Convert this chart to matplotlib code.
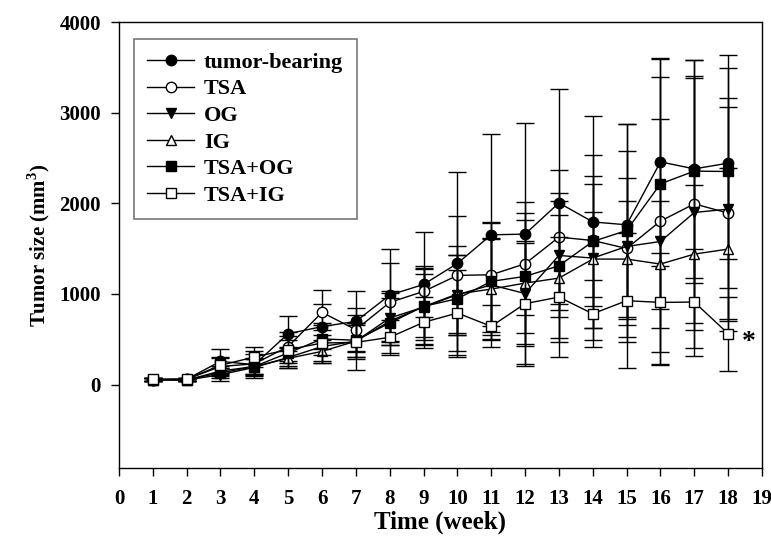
import matplotlib
matplotlib.use('Agg')
import matplotlib.pyplot as plt
import numpy as np

weeks = list(range(1, 19))

tumor_bearing = [55, 60, 257, 220, 562, 640, 698, 988, 1105, 1337, 1653, 1660, 2005, 1795, 1763, 2457, 2380, 2443]
tumor_bearing_sd = [15, 15, 140, 150, 190, 250, 340, 510, 575, 1005, 1110, 1230, 1255, 1170, 1110, 1150, 1200, 1055]

tsa = [55, 60, 200, 230, 420, 797, 606, 907, 1028, 1205, 1212, 1333, 1627, 1590, 1502, 1804, 1994, 1892]
tsa_sd = [15, 15, 90, 110, 160, 245, 240, 440, 280, 660, 570, 560, 740, 620, 780, 1585, 1390, 1170]

og = [55, 50, 110, 190, 300, 420, 480, 735, 855, 992, 1100, 1005, 1425, 1396, 1524, 1579, 1899, 1936]
og_sd = [15, 15, 70, 90, 120, 180, 200, 300, 360, 440, 520, 560, 600, 900, 1050, 1350, 1500, 1230]

ig = [55, 50, 150, 200, 290, 367, 480, 700, 860, 1000, 1054, 1120, 1175, 1385, 1385, 1330, 1440, 1495]
ig_sd = [15, 15, 60, 80, 110, 130, 180, 260, 420, 430, 550, 890, 700, 520, 640, 700, 760, 900]

tsa_og = [55, 55, 129, 200, 350, 504, 490, 680, 863, 948, 1139, 1194, 1311, 1579, 1700, 2215, 2355, 2351]
tsa_og_sd = [15, 15, 60, 90, 140, 180, 190, 330, 420, 580, 650, 620, 800, 950, 1180, 1380, 1230, 1290]

tsa_ig = [60, 60, 213, 305, 386, 459, 466, 522, 687, 790, 643, 893, 966, 782, 926, 907, 911, 562]
tsa_ig_sd = [15, 15, 90, 110, 150, 200, 300, 190, 280, 480, 230, 690, 660, 370, 742, 550, 590, 410]

labels = ['tumor-bearing', 'TSA', 'OG', 'IG', 'TSA+OG', 'TSA+IG']
series = [tumor_bearing, tsa, og, ig, tsa_og, tsa_ig]
errors = [tumor_bearing_sd, tsa_sd, og_sd, ig_sd, tsa_og_sd, tsa_ig_sd]
markers = ['o', 'o', 'v', '^', 's', 's']
faces = ['black', 'white', 'black', 'white', 'black', 'white']

plt.rcParams['font.family'] = 'Liberation Serif'
plt.rcParams['font.weight'] = 'bold'
plt.rcParams['mathtext.fontset'] = 'custom'
plt.rcParams['mathtext.rm'] = 'Liberation Serif:bold'

fig = plt.figure(figsize=(7.71, 5.5), dpi=100)
ax = fig.add_axes([0.1543, 0.149, 0.834, 0.811])

handles = []
for y, e, m, fc, lab in zip(series, errors, markers, faces, labels):
    ax.errorbar(weeks, y, yerr=e, fmt='none', ecolor='black', elinewidth=1,
                capsize=6.5, capthick=1)
    line, = ax.plot(weeks, y, '-', color='black', lw=1, marker=m, markersize=7.5,
                    markerfacecolor=fc, markeredgecolor='black', markeredgewidth=1,
                    label=lab)
    handles.append(line)

ax.text(18.4, 460, '*', fontsize=20, fontweight='bold', ha='left', va='center')

ax.set_xlim(0, 19)
ax.set_ylim(-920, 4000)
ax.set_xticks(range(0, 20))
ax.set_yticks([0, 1000, 2000, 3000, 4000])
ax.tick_params(direction='out', length=6, width=1, labelsize=15)
ax.tick_params(axis='x', pad=9)
ax.tick_params(axis='y', pad=7)
for s in ax.spines.values():
    s.set_linewidth(1)

ax.set_xlabel('Time (week)', fontsize=18, fontweight='bold', labelpad=1)
ax.set_ylabel('Tumor size (mm$^3$)', fontsize=15, fontweight='bold', labelpad=5)

leg = ax.legend(handles=handles, loc='upper left', bbox_to_anchor=(0.0233, 0.962),
                borderaxespad=0, fontsize=16, frameon=True, fancybox=False,
                edgecolor='#555555', handlelength=2.1, borderpad=0.6,
                labelspacing=0.27, handletextpad=0.45)
leg.get_frame().set_linewidth(1.2)

fig.savefig('out.png', dpi=100)
